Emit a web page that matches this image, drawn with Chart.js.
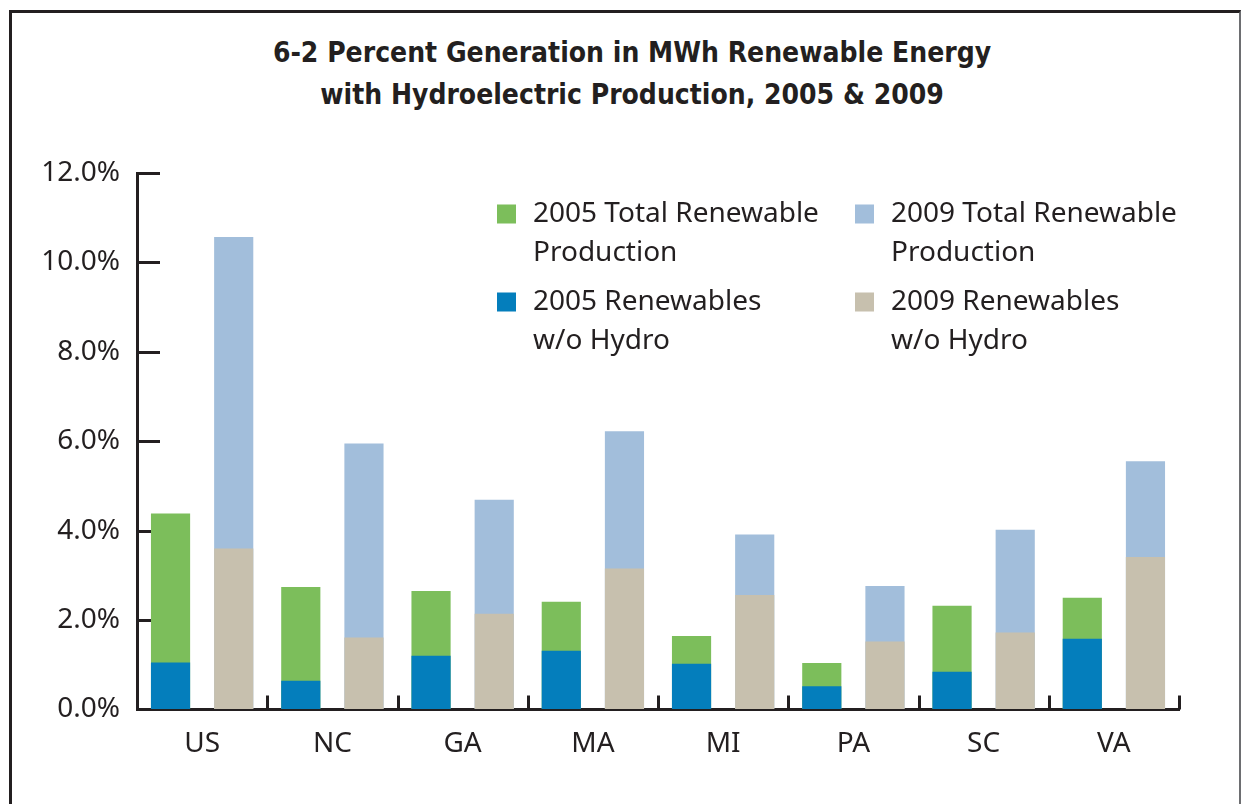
<!DOCTYPE html>
<html>
<head>
<meta charset="utf-8">
<script src="https://cdn.jsdelivr.net/npm/chart.js@4"></script>
<style>
  html, body { margin: 0; padding: 0; background: #fff; }
  #wrap { position: relative; width: 1241px; height: 804px; overflow: hidden; }
  #frame { position: absolute; left: 9px; top: 10px; right: 0; bottom: -10px;
           border-top: 3px solid #231f20; border-left: 3px solid #231f20; border-right: 2px solid #6d6e71; }
  #title { position: absolute; left: 23px; right: 0; top: 32px; text-align: center; color: #231f20;
           font: bold 28px/42px 'Liberation Sans Narrow', 'DejaVu Sans Condensed', 'Liberation Sans', sans-serif; }
  #chart { position: absolute; left: 0; top: 0; }
</style>
</head>
<body>
<div id="wrap">
  <div id="frame"></div>
  <div id="title"></div>
  <canvas id="chart" width="1241" height="804"></canvas>
</div>
<script>
// data (percent of MWh generation)
const states = ["US", "NC", "GA", "MA", "MI", "PA", "SC", "VA"];
const total2005 = [4.38, 2.74, 2.65, 2.41, 1.64, 1.04, 2.32, 2.50];
const noHydro2005 = [1.05, 0.64, 1.20, 1.31, 1.02, 0.52, 0.84, 1.58];
const total2009 = [10.57, 5.95, 4.69, 6.22, 3.91, 2.76, 4.02, 5.55];
const noHydro2009 = [3.60, 1.61, 2.14, 3.15, 2.56, 1.52, 1.72, 3.41];
const yTicks = [0, 2, 4, 6, 8, 10, 12];

const titleLines = ["6-2 Percent Generation in MWh Renewable Energy", "with Hydroelectric Production, 2005 & 2009"];
const legendTotal2005 = ["2005 Total Renewable", "Production"];
const legendTotal2009 = ["2009 Total Renewable", "Production"];
const legendNoHydro2005 = ["2005 Renewables", "w/o Hydro"];
const legendNoHydro2009 = ["2009 Renewables", "w/o Hydro"];

const ink = "#231f20";
const bodyFont = "'Noto Sans', 'Open Sans', sans-serif";

// title sits centred on the framed box, not on the plot
titleLines.forEach(line => {
    const d = document.createElement("div");
    d.textContent = line;
    document.getElementById("title").appendChild(d);
});

// ticks inside the axes (y ticks point right, category ticks point up)
const axisMarks = {
    id: "axisMarks",
    beforeDatasetsDraw(chart) {
        const { ctx, chartArea, scales } = chart;
        const x = scales.x, y = scales.y;
        ctx.save();
        ctx.strokeStyle = ink;
        ctx.lineWidth = 3;
        ctx.beginPath();
        y.ticks.forEach(t => {
            const py = Math.round(y.getPixelForValue(t.value)) + 0.5;
            ctx.moveTo(chartArea.left, py);
            ctx.lineTo(chartArea.left + 23, py);
        });
        for (let i = 1; i <= states.length; i++) {
            const px = Math.round(x.getPixelForValue(i - 0.5)) + 0.5;
            ctx.moveTo(px, chartArea.bottom);
            ctx.lineTo(px, chartArea.bottom - 14);
        }
        ctx.stroke();
        ctx.restore();
    }
};

// two column legend with wrapped labels, inside the plot
const boxLegend = {
    id: "boxLegend",
    afterDraw(chart, args, opts) {
        const ctx = chart.ctx;
        ctx.save();
        ctx.font = opts.fontSize + "px " + bodyFont;
        ctx.textBaseline = "middle";
        ctx.fillStyle = ink;
        opts.items.forEach(item => {
            const ds = chart.data.datasets[item.dataset];
            ctx.fillStyle = ds.backgroundColor;
            ctx.fillRect(item.x, item.y - opts.box / 2, opts.box, opts.box);
            ctx.fillStyle = ink;
            ds.legendLines.forEach((line, i) => {
                ctx.fillText(line, item.x + opts.textGap, item.y + i * opts.lineGap);
            });
        });
        ctx.restore();
    }
};

new Chart(document.getElementById("chart"), {
    type: "bar",
    data: {
        labels: states,
        datasets: [
            { label: legendTotal2005.join(" "), legendLines: legendTotal2005, data: total2005,
              stack: "2005", order: 2, backgroundColor: "#7cbe5b" },
            { label: legendTotal2009.join(" "), legendLines: legendTotal2009, data: total2009,
              stack: "2009", order: 2, backgroundColor: "#a2bedb" },
            { label: legendNoHydro2005.join(" "), legendLines: legendNoHydro2005, data: noHydro2005,
              stack: "2005", order: 1, backgroundColor: "#047ebc" },
            { label: legendNoHydro2009.join(" "), legendLines: legendNoHydro2009, data: noHydro2009,
              stack: "2009", order: 1, backgroundColor: "#c7c0ae" }
        ]
    },
    options: {
        responsive: false,
        animation: false,
        categoryPercentage: 0.97,
        barPercentage: 0.62,
        layout: { padding: { left: 20, right: 62, top: 173, bottom: 25 } },
        plugins: {
            legend: { display: false },
            tooltip: { enabled: false },
            title: { display: false },
            boxLegend: {
                fontSize: 28, box: 19, textGap: 36, lineGap: 39,
                items: [
                    { dataset: 0, x: 497, y: 214 },
                    { dataset: 1, x: 855, y: 214 },
                    { dataset: 2, x: 497, y: 302 },
                    { dataset: 3, x: 855, y: 302 }
                ]
            }
        },
        scales: {
            x: {
                stacked: true,
                grid: { drawOnChartArea: false, drawTicks: false },
                border: { display: true, color: ink, width: 3 },
                ticks: { color: ink, padding: 18, font: { family: bodyFont, size: 28 } }
            },
            y: {
                stacked: false,
                min: 0,
                max: 12,
                afterBuildTicks: s => { s.ticks = yTicks.map(v => ({ value: v })); },
                afterFit: s => { s.width = 117; },
                grid: { drawOnChartArea: false, drawTicks: false },
                border: { display: true, color: ink, width: 3 },
                ticks: { color: ink, padding: 17, font: { family: bodyFont, size: 28 },
                         callback: v => v.toFixed(1) + "%" }
            }
        }
    },
    plugins: [axisMarks, boxLegend]
});
</script>
</body>
</html>
